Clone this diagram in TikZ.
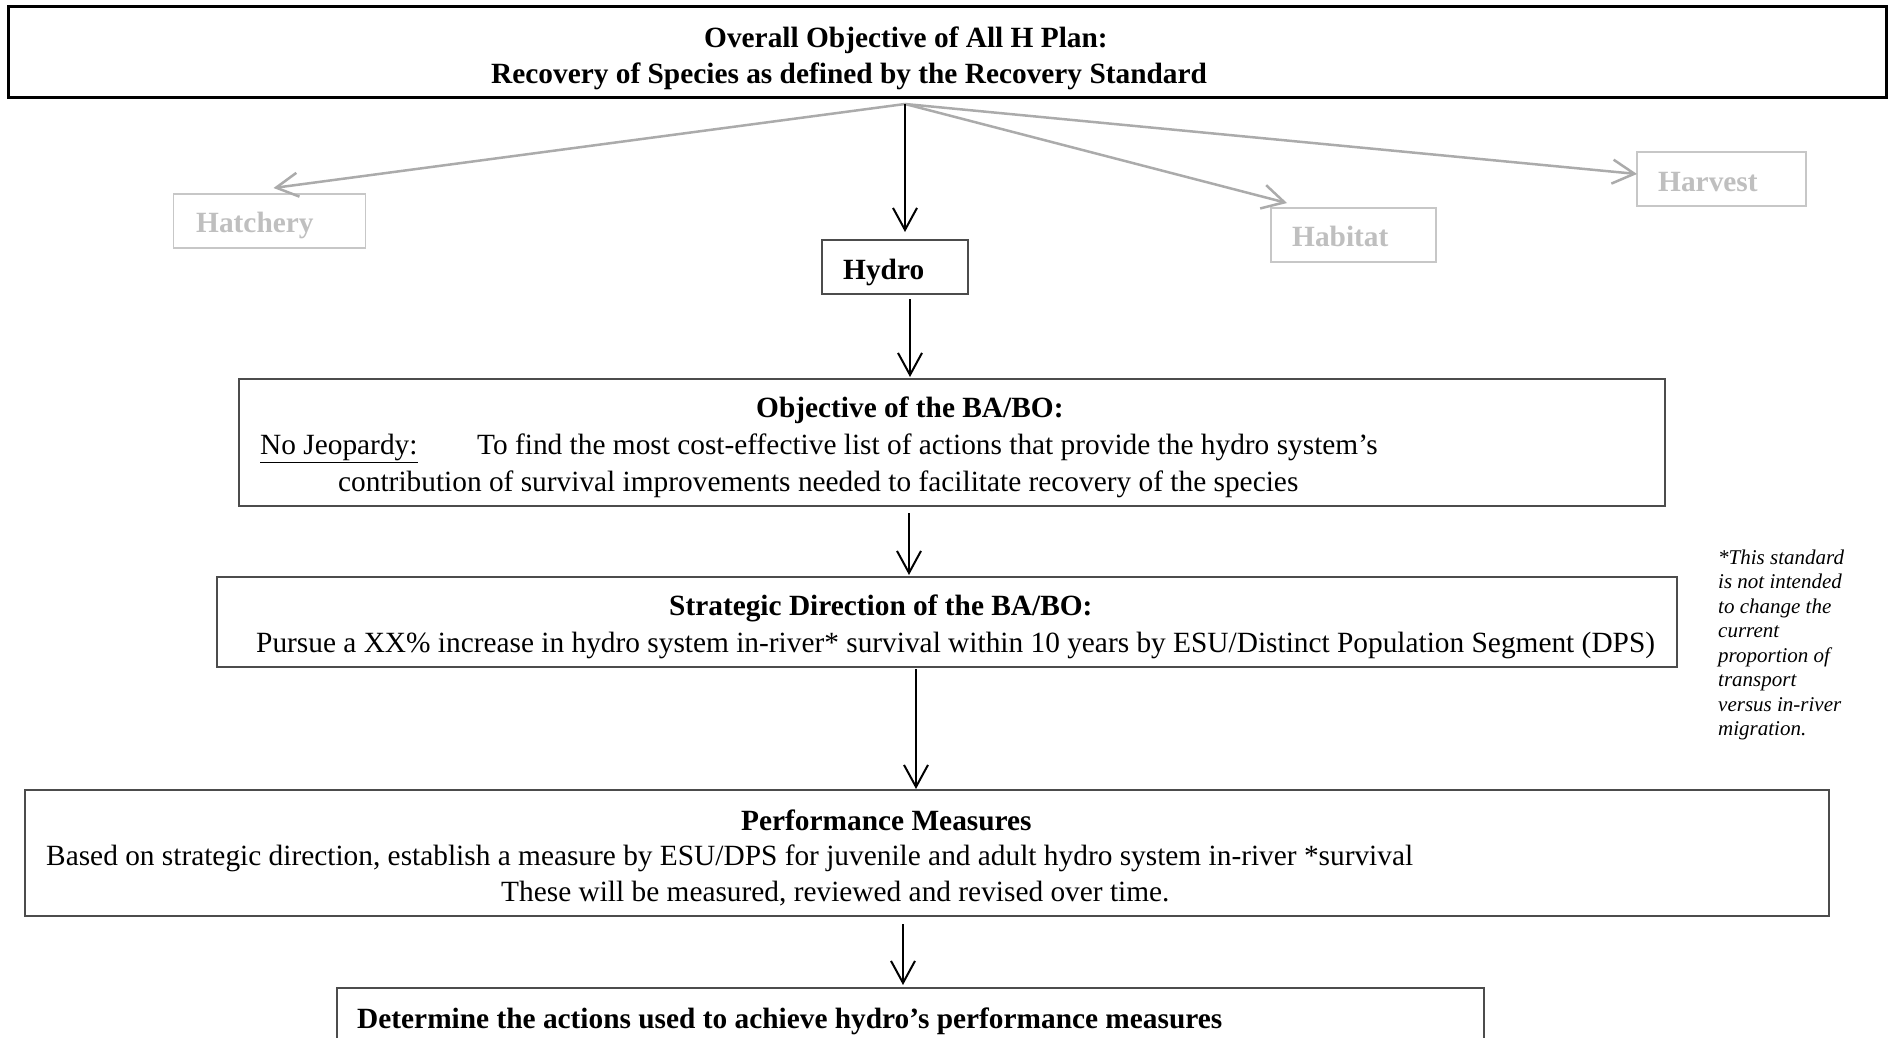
\documentclass[tikz,border=0pt]{standalone}
\usepackage{fontspec}
\setmainfont{Liberation Serif}
\usetikzlibrary{arrows.meta,calc}
\begin{document}
\begin{tikzpicture}[x=1pt,y=-1pt,
  box/.style={draw=black!70, line width=1.4pt, inner sep=0pt, outer sep=0pt, anchor=north west},
  gbox/.style={draw=black!22, line width=1.4pt, inner sep=0pt, outer sep=0pt, anchor=north west},
  txt/.style={inner sep=0pt, anchor=base west, font=\fontsize{29.35}{35}\selectfont},
  btxt/.style={inner sep=0pt, anchor=base west, font=\fontsize{29.35}{35}\selectfont\bfseries},
  gtxt/.style={btxt, text=black!25},
  notetxt/.style={inner sep=0pt, anchor=base west, font=\fontsize{21}{24.5}\selectfont\itshape},
  barrow/.style={draw=black, line width=2pt, -{Straight Barb[length=22pt,width=24pt]}},
  garrow/.style={draw=black!33, line width=2.5pt, -{Straight Barb[length=22pt,width=24pt]}},
]
\clip (0,0) rectangle (1893,1038);
\fill[white] (0,0) rectangle (1893,1038);

% boxes
\node[box, draw=black, line width=2.6pt, minimum width=1878pt, minimum height=91pt] (top) at (8.5,6.5) {};
\node[gbox, minimum width=192pt, minimum height=54pt] (hatch) at (173.5,194) {};
\node[box, minimum width=146pt, minimum height=54pt] (hydro) at (822,240) {};
\node[gbox, minimum width=165pt, minimum height=54pt] (habitat) at (1271,208) {};
\node[gbox, minimum width=169pt, minimum height=54pt] (harvest) at (1637,152) {};
\node[box, minimum width=1426pt, minimum height=127pt] (obj) at (239,379) {};
\node[box, minimum width=1460pt, minimum height=90pt] (strat) at (217,577) {};
\node[box, minimum width=1804pt, minimum height=126pt] (perf) at (25,790) {};
\node[box, minimum width=1147pt, minimum height=120pt] (det) at (337,988) {};

% texts
\node[btxt] (t1) at (704,48) {Overall Objective of All H Plan:};
\node[btxt] (t2) at (491,83.5) {Recovery of Species as defined by the Recovery Standard};
\node[gtxt] (thatch) at (196,232) {Hatchery};
\node[btxt] (thydro) at (843,279) {Hydro};
\node[gtxt] (thabitat) at (1292,246) {Habitat};
\node[gtxt] (tharvest) at (1658,191) {Harvest};
\node[btxt] (oa) at (756,417) {Objective of the BA/BO:};
\node[txt] (ob) at (260,454) {\makebox[217pt][l]{\underline{No Jeopardy:}}To find the most cost-effective list of actions that provide the hydro system’s};
\node[txt] (oc) at (338,491) {contribution of survival improvements needed to facilitate recovery of the species};
\node[btxt] (sa) at (669,615) {Strategic Direction of the BA/BO:};
\node[txt] (sb) at (256,652) {Pursue a XX\% increase in hydro system in-river* survival within 10 years by ESU/Distinct Population Segment (DPS)};
\node[btxt] (pa) at (741,830) {Performance Measures};
\node[txt] (pb) at (46,865) {Based on strategic direction, establish a measure by ESU/DPS for juvenile and adult hydro system in-river *survival};
\node[txt] (pc) at (501,901) {These will be measured, reviewed and revised over time.};
\node[btxt] (da) at (357,1028) {Determine the actions used to achieve hydro’s performance measures};

% note
\foreach \t [count=\i] in {*This standard, is not intended, to change the, current, proportion of, transport, versus in-river, migration.}
  \node[notetxt] (n\i) at (1718,{564+24.5*(\i-1)}) {\t};

% connectors
\coordinate (src) at (905,104);
\coordinate (xa) at (910,0);
\coordinate (xb) at (909,0);
\coordinate (xc) at (916,0);
\coordinate (xd) at (903,0);
\draw[garrow] (src) -- ($(hatch.north west)+(100,-6)$);
\draw[garrow] (src) -- ($(habitat.north west)+(16,-5)$);
\draw[garrow] (src) -- ($(harvest.north west)+(0,22)$);
\draw[barrow] (src) -- ([yshift=8pt]src |- hydro.north);
\draw[barrow, shorten <=5pt, shorten >=2pt] (hydro.south -| xa) -- (obj.north -| xa);
\draw[barrow, shorten <=7pt, shorten >=2pt] (obj.south -| xb) -- (strat.north -| xb);
\draw[barrow, shorten <=2pt, shorten >=1pt] (strat.south -| xc) -- (perf.north -| xc);
\draw[barrow, shorten <=8pt, shorten >=3pt] (perf.south -| xd) -- (det.north -| xd);
\end{tikzpicture}
\end{document}
